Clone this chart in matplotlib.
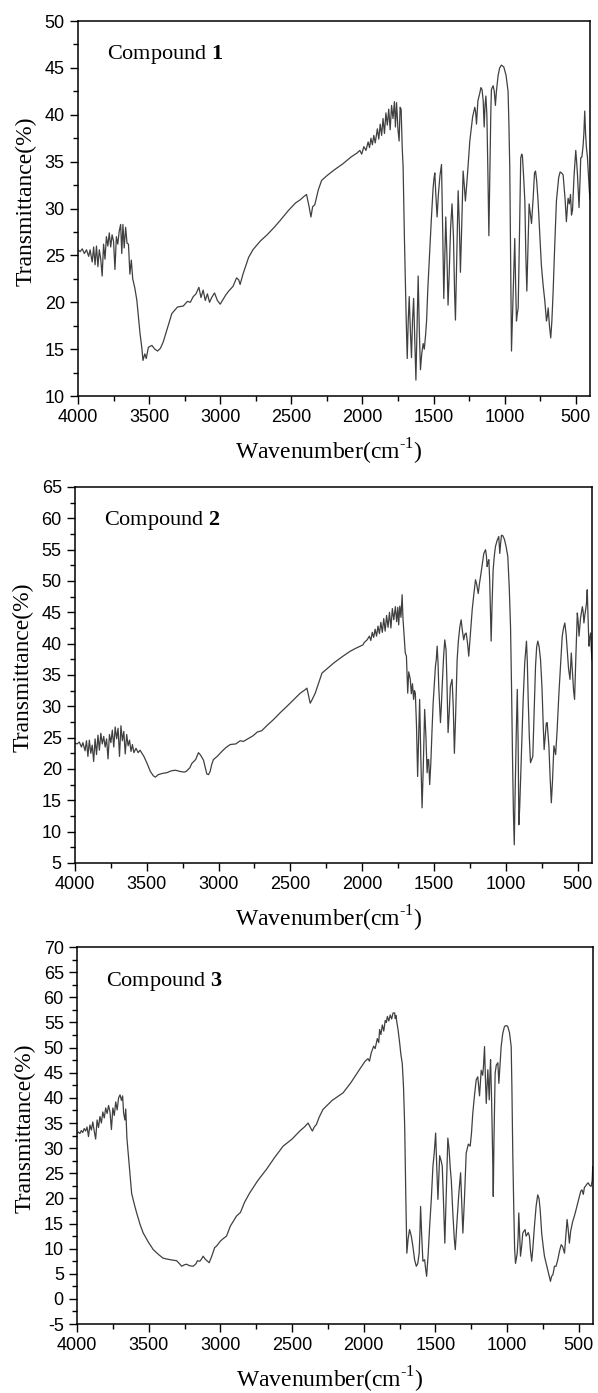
import numpy as np
import matplotlib
matplotlib.use('Agg')
import matplotlib.pyplot as plt
from matplotlib.ticker import MultipleLocator

plt.rcParams['font.family'] = ['Liberation Serif', 'DejaVu Serif']
plt.rcParams['mathtext.fontset'] = 'custom'
plt.rcParams['mathtext.rm'] = 'Liberation Serif'
plt.rcParams['mathtext.bf'] = 'Liberation Serif:bold'
plt.rcParams['axes.unicode_minus'] = False

# (wavenumber cm-1, transmittance %)
spec1 = [(4000,25.6),(3985,25.4),(3970,25.7),(3955,25.2),(3940,25.6),(3925,24.9),(3915,25.6),(3900,24.3),
         (3890,25.9),(3880,24.0),(3870,26.0),(3860,23.8),(3850,25.6),(3840,24.6),(3830,22.8),(3820,26.2),
         (3810,24.6),(3800,27.0),(3790,26.0),(3780,27.4),(3770,25.9),(3760,27.2),(3750,26.5),(3740,23.5),
         (3730,27.0),(3720,26.2),(3710,27.6),(3700,28.3),(3692,25.2),(3684,28.3),(3675,25.8),(3665,28.0),
         (3655,26.3),(3645,26.2),(3635,23.0),(3625,24.5),(3615,22.5),(3600,21.5),(3586,20.2),(3564,16.7),
         (3550,15.0),(3543,13.8),(3530,14.5),(3520,14.0),(3505,15.2),(3480,15.4),(3460,15.0),(3440,14.8),
         (3420,15.1),(3400,15.8),(3370,17.3),(3340,18.8),(3300,19.5),(3260,19.6),(3230,20.1),(3210,20.0),
         (3190,20.6),(3170,20.9),(3150,21.6),(3135,20.5),(3120,21.3),(3105,20.2),(3090,20.9),(3075,20.0),
         (3060,20.5),(3040,21.0),(3020,20.2),(3000,19.8),(2980,20.3),(2960,20.8),(2940,21.2),(2910,21.7),
         (2885,22.6),(2870,22.4),(2860,21.9),(2840,23.0),(2800,24.8),(2770,25.6),(2720,26.5),(2670,27.2),
         (2620,28.0),(2580,28.7),(2520,29.8),(2470,30.6),(2440,30.9),(2410,31.3),(2393,31.5),(2375,30.2),
         (2362,29.1),(2350,30.2),(2335,30.4),(2310,32.0),(2287,33.0),(2250,33.5),(2200,34.1),(2135,34.8),
         (2080,35.5),(2040,35.9),(2018,36.2),(2005,35.8),(1990,36.6),(1975,36.2),(1960,37.1),(1950,36.5),
         (1940,37.5),(1930,36.8),(1920,37.8),(1910,37.0),(1895,38.5),(1885,37.4),(1875,39.0),(1865,37.8),
         (1855,39.6),(1845,38.0),(1835,40.2),(1825,38.9),(1815,40.6),(1805,38.4),(1795,41.0),(1785,39.6),
         (1775,41.4),(1768,38.7),(1760,41.3),(1750,38.4),(1742,37.2),(1735,40.8),(1728,40.6),(1720,36.4),
         (1714,34.5),(1705,27.0),(1692,18.0),(1685,14.0),(1678,18.0),(1671,20.6),(1663,17.0),(1655,14.1),
         (1648,18.0),(1640,20.4),(1632,16.0),(1624,11.7),(1616,17.0),(1608,22.8),(1600,17.0),(1592,12.8),
         (1583,14.5),(1573,15.6),(1565,15.0),(1556,16.5),(1549,18.0),(1540,21.5),(1526,25.8),(1515,29.0),
         (1503,32.2),(1497,33.2),(1491,33.8),(1484,31.5),(1475,29.1),(1466,31.5),(1455,33.5),(1444,34.7),
         (1436,28.0),(1428,20.4),(1421,25.0),(1414,29.1),(1406,25.0),(1398,19.7),(1390,23.0),(1380,28.0),
         (1370,30.5),(1360,27.0),(1352,21.0),(1346,18.1),(1338,24.0),(1327,31.9),(1318,28.0),(1311,23.2),
         (1302,28.0),(1292,34.0),(1284,32.5),(1276,30.8),(1262,33.5),(1245,37.2),(1225,39.8),(1210,40.8),
         (1204,40.3),(1198,39.0),(1188,41.5),(1175,42.3),(1167,42.9),(1159,42.7),(1151,41.5),(1144,38.7),
         (1138,41.0),(1132,42.0),(1125,40.0),(1118,34.0),(1111,27.1),(1104,34.0),(1097,40.5),(1093,42.7),
         (1081,43.1),(1073,42.5),(1065,41.0),(1058,42.5),(1046,44.2),(1035,45.0),(1023,45.3),(1006,45.1),
         (990,44.2),(976,42.5),(970,39.0),(964,34.3),(958,24.0),(952,14.8),(946,18.0),(941,20.8),(935,24.0),
         (929,26.8),(923,22.0),(917,18.0),(911,18.8),(905,19.4),(897,26.0),(887,35.4),(880,35.8),(875,35.6),
         (867,33.5),(858,30.8),(851,25.0),(844,21.2),(836,26.0),(828,30.5),(820,29.5),(811,28.4),(800,31.0),
         (790,33.8),(783,34.0),(775,33.0),(765,30.8),(753,27.3),(742,24.0),(730,21.9),(718,20.2),(706,18.0),
         (700,18.5),(694,19.4),(685,17.5),(676,16.2),(668,18.0),(659,21.2),(648,26.0),(636,30.8),(620,33.3),
         (610,33.9),(600,33.8),(589,33.6),(575,31.0),(566,28.6),(554,31.1),(545,30.5),(537,31.5),(530,29.3),
         (523,29.8),(512,33.5),(500,36.2),(494,35.0),(488,33.6),(477,30.1),(470,33.0),(465,35.4),(457,35.5),
         (449,36.6),(443,38.0),(437,40.4),(431,38.0),(425,36.5),(418,35.5),(411,33.5),(405,32.0),(400,31.0)]

spec2 = [(4000,24.1),(3985,24.0),(3970,24.3),(3955,23.5),(3945,24.2),(3930,22.9),(3920,24.5),(3910,22.0),
         (3900,24.6),(3890,22.5),(3880,23.8),(3870,21.2),(3860,24.8),(3850,22.3),(3840,25.4),(3830,23.0),
         (3820,25.7),(3810,24.0),(3800,25.2),(3790,23.5),(3780,24.8),(3770,21.6),(3760,25.5),(3750,24.2),
         (3740,26.2),(3730,23.5),(3720,26.7),(3710,24.8),(3700,26.5),(3690,22.0),(3680,26.9),(3670,24.5),
         (3660,26.0),(3650,22.4),(3640,25.5),(3630,23.7),(3620,24.6),(3610,22.8),(3600,23.9),(3590,22.6),
         (3575,23.3),(3560,22.6),(3547,23.0),(3520,22.0),(3500,21.0),(3475,19.6),(3454,18.9),(3440,18.7),
         (3420,19.1),(3390,19.3),(3361,19.4),(3330,19.7),(3300,19.8),(3268,19.6),(3240,19.5),(3226,19.6),
         (3200,20.2),(3186,20.9),(3160,21.5),(3140,22.6),(3125,22.2),(3105,21.4),(3090,20.0),(3082,19.2),
         (3070,19.1),(3059,19.6),(3048,20.7),(3036,21.5),(3010,22.0),(2977,22.8),(2950,23.4),(2919,23.9),
         (2880,24.0),(2850,24.5),(2827,24.4),(2790,24.9),(2760,25.3),(2730,25.9),(2700,26.1),(2660,27.0),
         (2617,27.9),(2570,29.0),(2524,30.0),(2480,31.0),(2431,32.1),(2400,32.6),(2385,32.9),(2372,31.5),
         (2362,30.5),(2350,31.0),(2327,32.1),(2305,33.6),(2280,35.3),(2240,36.1),(2199,36.9),(2140,37.9),
         (2083,38.8),(2050,39.2),(2013,39.6),(1995,39.8),(1985,40.2),(1966,40.6),(1950,41.2),(1940,40.5),
         (1930,41.8),(1920,41.0),(1910,42.3),(1900,41.2),(1890,42.8),(1880,41.6),(1870,43.4),(1860,41.8),
         (1850,44.0),(1840,42.0),(1830,44.5),(1820,42.6),(1810,45.0),(1800,42.5),(1790,45.6),(1780,43.8),
         (1769,45.9),(1760,43.5),(1752,45.8),(1746,43.0),(1738,46.0),(1730,44.2),(1722,47.8),(1716,44.0),
         (1711,42.2),(1700,38.5),(1692,38.0),(1683,32.1),(1676,35.5),(1665,34.3),(1658,32.0),(1650,33.6),
         (1642,31.1),(1636,32.5),(1630,32.1),(1622,27.0),(1614,18.8),(1607,25.0),(1600,31.1),(1592,22.0),
         (1583,13.8),(1575,20.0),(1565,29.5),(1556,25.0),(1548,19.4),(1542,21.5),(1537,21.5),(1530,17.5),
         (1522,21.0),(1514,26.0),(1506,30.5),(1498,33.5),(1490,36.4),(1484,37.5),(1478,39.6),(1472,37.0),
         (1467,33.2),(1460,30.0),(1455,27.4),(1449,30.0),(1443,33.2),(1433,38.0),(1425,40.6),(1416,39.0),
         (1410,34.0),(1402,25.8),(1394,29.0),(1386,33.2),(1374,34.3),(1366,30.0),(1358,22.5),(1350,28.0),
         (1339,37.4),(1330,40.5),(1320,42.7),(1311,43.8),(1302,42.0),(1293,40.6),(1285,41.5),(1276,41.7),
         (1266,40.0),(1258,38.0),(1248,41.0),(1234,45.4),(1222,48.0),(1211,50.2),(1203,49.5),(1192,48.0),
         (1184,49.5),(1176,50.7),(1165,52.5),(1153,54.4),(1141,55.0),(1135,54.0),(1130,52.3),(1124,53.0),
         (1118,53.4),(1112,50.0),(1106,44.0),(1102,40.4),(1096,46.0),(1088,51.8),(1080,54.0),(1072,55.5),
         (1060,56.5),(1049,57.1),(1042,54.4),(1036,56.0),(1030,57.3),(1020,57.2),(1009,56.6),(998,55.5),
         (986,53.9),(976,49.0),(967,42.7),(960,33.0),(953,21.5),(947,13.0),(941,7.9),(936,15.0),(927,25.8),
         (920,32.7),(914,24.0),(909,11.1),(903,14.0),(897,18.3),(888,25.0),(879,31.1),(868,37.0),(856,40.4),
         (850,37.0),(844,31.1),(836,25.0),(828,21.0),(820,21.5),(812,22.0),(803,29.0),(793,36.4),(785,39.5),
         (777,40.4),(768,39.5),(758,37.4),(748,33.0),(740,27.4),(733,23.1),(726,25.0),(718,27.3),(712,27.4),
         (706,25.5),(700,23.7),(692,19.0),(683,14.6),(675,18.0),(665,23.7),(659,23.0),(653,22.3),(643,26.0),
         (630,32.1),(618,37.0),(607,41.2),(598,42.5),(589,43.3),(580,41.5),(572,39.0),(563,36.0),(553,34.3),
         (548,36.5),(544,38.5),(535,35.0),(528,32.5),(521,31.1),(512,38.0),(502,44.9),(496,43.5),(490,41.2),
         (480,44.0),(467,45.9),(461,45.0),(456,43.3),(450,44.5),(444,45.4),(438,46.5),(433,48.6),(427,44.0),
         (421,39.6),(415,41.0),(409,41.7),(404,39.0),(400,37.4)]

spec3 = [(4000,32.9),(3990,33.2),(3980,32.9),(3970,33.5),(3960,33.1),(3950,33.9),(3940,33.4),(3930,34.2),
         (3920,32.3),(3910,34.6),(3900,33.6),(3890,35.2),(3880,33.4),(3870,31.8),(3860,35.6),(3850,34.1),
         (3840,36.3),(3830,35.0),(3820,37.2),(3810,36.0),(3800,38.0),(3790,36.9),(3780,38.5),(3770,37.2),
         (3760,33.7),(3750,38.0),(3740,36.5),(3730,39.2),(3720,37.6),(3710,40.0),(3700,40.6),(3690,39.5),
         (3682,40.4),(3675,37.0),(3666,35.6),(3660,37.8),(3652,32.0),(3643,29.0),(3630,24.5),(3619,21.0),
         (3600,18.8),(3584,17.1),(3560,14.8),(3538,13.1),(3500,11.2),(3468,9.8),(3430,8.8),(3399,8.1),
         (3350,7.8),(3305,7.6),(3285,7.0),(3270,6.5),(3250,6.8),(3236,6.9),(3215,6.6),(3190,6.5),(3170,7.0),
         (3160,7.6),(3143,7.5),(3130,8.0),(3120,8.5),(3105,7.9),(3090,7.5),(3078,7.2),(3060,8.5),(3040,10.2),
         (3027,10.5),(3000,11.5),(2980,12.0),(2957,12.5),(2930,14.5),(2887,16.5),(2860,17.2),(2830,19.3),
         (2795,21.1),(2740,23.5),(2678,25.8),(2620,28.2),(2562,30.4),(2500,31.8),(2446,33.4),(2410,34.3),
         (2388,35.0),(2370,34.0),(2358,33.4),(2345,34.2),(2330,34.7),(2310,36.2),(2284,37.7),(2220,39.5),
         (2144,41.0),(2090,43.0),(2028,45.7),(1990,47.3),(1970,47.8),(1960,47.3),(1947,49.0),(1930,50.3),
         (1920,49.8),(1905,51.8),(1895,51.0),(1889,53.6),(1880,52.6),(1870,54.5),(1860,53.3),(1850,55.4),
         (1842,55.0),(1835,56.2),(1825,55.3),(1815,56.5),(1805,55.7),(1795,56.9),(1784,56.9),(1780,55.8),
         (1775,56.4),(1768,54.9),(1760,53.5),(1749,50.9),(1740,48.5),(1731,46.9),(1722,42.0),(1714,34.3),
         (1706,20.0),(1699,9.1),(1690,12.0),(1680,13.8),(1668,12.5),(1657,10.5),(1645,7.8),(1633,6.5),
         (1623,7.0),(1613,9.1),(1608,13.0),(1603,18.4),(1596,13.0),(1587,7.5),(1575,7.8),(1568,6.0),
         (1561,4.5),(1550,9.0),(1540,14.4),(1528,20.0),(1517,26.4),(1508,29.0),(1498,33.0),(1490,26.0),
         (1482,19.8),(1476,24.0),(1470,28.5),(1460,27.5),(1452,26.4),(1444,20.0),(1434,11.1),(1426,19.0),
         (1418,27.0),(1413,32.0),(1405,30.0),(1396,26.0),(1389,23.7),(1378,17.0),(1368,12.0),(1361,9.8),
         (1350,15.0),(1336,21.1),(1324,25.1),(1316,19.0),(1308,13.1),(1297,20.0),(1285,29.0),(1270,30.8),
         (1257,30.4),(1248,33.0),(1239,36.9),(1227,40.5),(1215,43.6),(1204,44.2),(1192,40.4),(1180,45.5),
         (1170,44.5),(1165,46.0),(1157,50.2),(1151,44.0),(1145,38.9),(1140,42.0),(1134,45.6),(1128,42.0),
         (1124,39.6),(1120,44.0),(1115,47.6),(1108,40.0),(1100,28.0),(1096,20.4),(1091,32.0),(1083,44.9),
         (1075,46.5),(1064,47.0),(1057,42.9),(1050,46.0),(1041,50.2),(1030,52.8),(1018,54.2),(1005,54.4),
         (995,54.2),(983,53.0),(971,50.2),(966,42.0),(960,29.0),(953,18.0),(947,10.0),(941,7.1),(935,8.0),
         (929,9.1),(923,12.0),(918,17.1),(912,13.0),(906,8.5),(898,10.5),(890,13.1),(882,13.5),(874,13.8),
         (867,12.5),(860,12.8),(852,13.2),(844,12.5),(836,9.5),(828,7.5),(820,10.0),(809,14.4),(797,18.5),
         (786,20.7),(777,20.0),(769,17.8),(758,13.0),(748,10.5),(739,8.5),(728,7.2),(716,5.8),(706,4.6),
         (697,3.5),(689,4.5),(680,4.8),(669,6.5),(658,6.5),(646,7.8),(634,9.5),(622,10.8),(612,10.4),
         (599,9.1),(590,12.5),(581,15.8),(574,14.0),(565,11.1),(556,13.5),(542,15.4),(530,16.5),(518,17.8),
         (506,19.2),(495,20.4),(485,21.5),(477,21.7),(468,20.8),(460,22.2),(453,22.4),(444,22.8),(434,23.1),
         (424,22.6),(413,22.4),(406,23.5),(402,26.4),(400,25.5)]

spectra = [spec1, spec2, spec3]
names = ['1', '2', '3']
ylims = [(10, 50), (5, 65), (-5, 70)]

# axes rectangles in figure fraction: left, bottom, width, height
rects = [[0.1304, 0.7157, 0.8562, 0.2692],
         [0.1254, 0.3805, 0.8645, 0.2699],
         [0.1288, 0.0495, 0.8629, 0.2706]]

fig = plt.figure(figsize=(5.98, 13.93), dpi=100)

for spec, name, ylim, rect in zip(spectra, names, ylims, rects):
    ax = fig.add_axes(rect)
    wn = np.array([p[0] for p in spec])
    tr = np.array([p[1] for p in spec])
    ax.plot(wn, tr, color='#404040', linewidth=0.9)

    ax.set_xlim(4000, 400)
    ax.set_ylim(*ylim)
    ax.xaxis.set_major_locator(MultipleLocator(500))
    ax.xaxis.set_minor_locator(MultipleLocator(250))
    ax.yaxis.set_major_locator(MultipleLocator(5))
    ax.yaxis.set_minor_locator(MultipleLocator(2.5))
    ax.tick_params(which='both', direction='out', top=False, right=False, width=1.0)
    ax.tick_params(which='major', length=6)
    ax.tick_params(which='minor', length=3.5)
    for lab in ax.get_xticklabels() + ax.get_yticklabels():
        lab.set_fontfamily('Liberation Sans')
        lab.set_fontsize(13)
    for sp in ax.spines.values():
        sp.set_linewidth(1.1)

    ax.set_xlabel(r'Wavenumber(cm$^{\text{-}1}$)', fontsize=17)
    ax.xaxis.set_label_coords(0.49, -0.108)
    ax.set_ylabel('Transmittance(%)', fontsize=17)
    ax.yaxis.set_label_coords(-0.08, 0.52)

    ax.text(0.056, 0.91, 'Compound $\\mathbf{' + name + '}$', transform=ax.transAxes,
            fontsize=16, ha='left', va='center')

fig.savefig('out.png', dpi=100)
